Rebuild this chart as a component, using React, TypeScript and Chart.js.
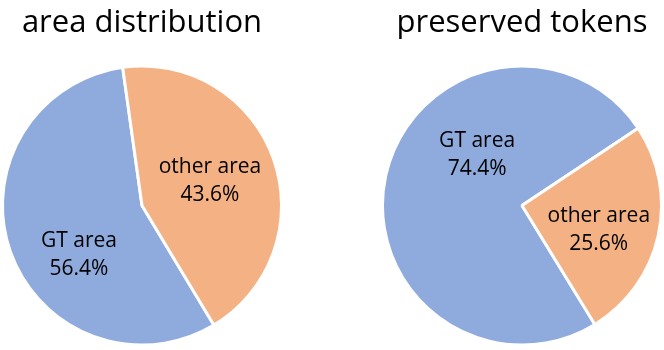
import React, { useEffect, useRef } from "react";
import { Chart, registerables } from "chart.js";

Chart.register(...registerables);

const categories = ["GT area", "other area"];
const areaValues = [56.4, 43.6];
const tokenValues = [74.4, 25.6];
const chartTitles = ["area distribution", "preserved tokens"];
const sliceColors = ["#8FAADC", "#F4B183"];
const rotations = [149, 148.5];
// label placement: angle from top, clockwise (deg) and fraction of radius
const areaLabelAngles = [233.9, 67.6];
const areaLabelRadii = [0.557, 0.525];
const tokenLabelAngles = [320.6, 104.7];
const tokenLabelRadii = [0.505, 0.567];

const FONT = "'Open Sans', sans-serif";

function makeLabelPlugin(angles: number[], radii: number[], values: number[]) {
  return {
    id: "sliceLabels",
    afterDatasetsDraw(chart: any) {
      const meta = chart.getDatasetMeta(0);
      const arc = meta.data[0] as any;
      if (!arc) return;
      const cx = arc.x;
      const cy = arc.y;
      const r = 140;
      const ctx = chart.ctx;
      ctx.save();
      ctx.fillStyle = "#000000";
      ctx.font = `21px ${FONT}`;
      ctx.textAlign = "center";
      ctx.textBaseline = "alphabetic";
      values.forEach((v, i) => {
        const a = (angles[i] * Math.PI) / 180;
        const px = cx + r * radii[i] * Math.sin(a);
        const py = cy - r * radii[i] * Math.cos(a);
        ctx.fillText(categories[i], px, py - 4);
        ctx.fillText(`${v.toFixed(1)}%`, px, py + 24);
      });
      ctx.restore();
    },
  };
}

function makeTitlePlugin(text: string) {
  return {
    id: "topTitle",
    afterDraw(chart: any) {
      const ctx = chart.ctx;
      const area = chart.chartArea;
      ctx.save();
      ctx.fillStyle = "#000000";
      ctx.font = `31px ${FONT}`;
      ctx.textAlign = "center";
      ctx.textBaseline = "alphabetic";
      ctx.fillText(text, (area.left + area.right) / 2, 32);
      ctx.restore();
    },
  };
}

function PieChart(props: {
  values: number[];
  title: string;
  rotation: number;
  angles: number[];
  radii: number[];
}) {
  const ref = useRef<HTMLCanvasElement | null>(null);
  useEffect(() => {
    if (!ref.current) return;
    const chart = new Chart(ref.current, {
      type: "pie",
      data: {
        labels: categories,
        datasets: [
          {
            data: props.values,
            backgroundColor: sliceColors,
            borderColor: "#FFFFFF",
            borderWidth: 3,
          },
        ],
      },
      options: {
        responsive: false,
        animation: false,
        rotation: props.rotation,
        layout: { padding: { top: 64, bottom: 3, left: 1, right: 1 } },
        plugins: {
          legend: { display: false },
          tooltip: { enabled: false },
          title: { display: false },
        },
      },
      plugins: [
        makeLabelPlugin(props.angles, props.radii, props.values),
        makeTitlePlugin(props.title),
      ],
    } as any);
    return () => chart.destroy();
  }, []);
  return <canvas ref={ref} width={284} height={350} />;
}

export default function App() {
  return (
    <div
      style={{
        position: "fixed",
        left: 0,
        top: 0,
        width: 664,
        height: 350,
        background: "#FFFFFF",
      }}
    >
      <div style={{ position: "absolute", left: 0, top: 0, width: 284, height: 350 }}>
        <PieChart
          values={areaValues}
          title={chartTitles[0]}
          rotation={rotations[0]}
          angles={areaLabelAngles}
          radii={areaLabelRadii}
        />
      </div>
      <div style={{ position: "absolute", left: 380, top: 0, width: 284, height: 350 }}>
        <PieChart
          values={tokenValues}
          title={chartTitles[1]}
          rotation={rotations[1]}
          angles={tokenLabelAngles}
          radii={tokenLabelRadii}
        />
      </div>
    </div>
  );
}
